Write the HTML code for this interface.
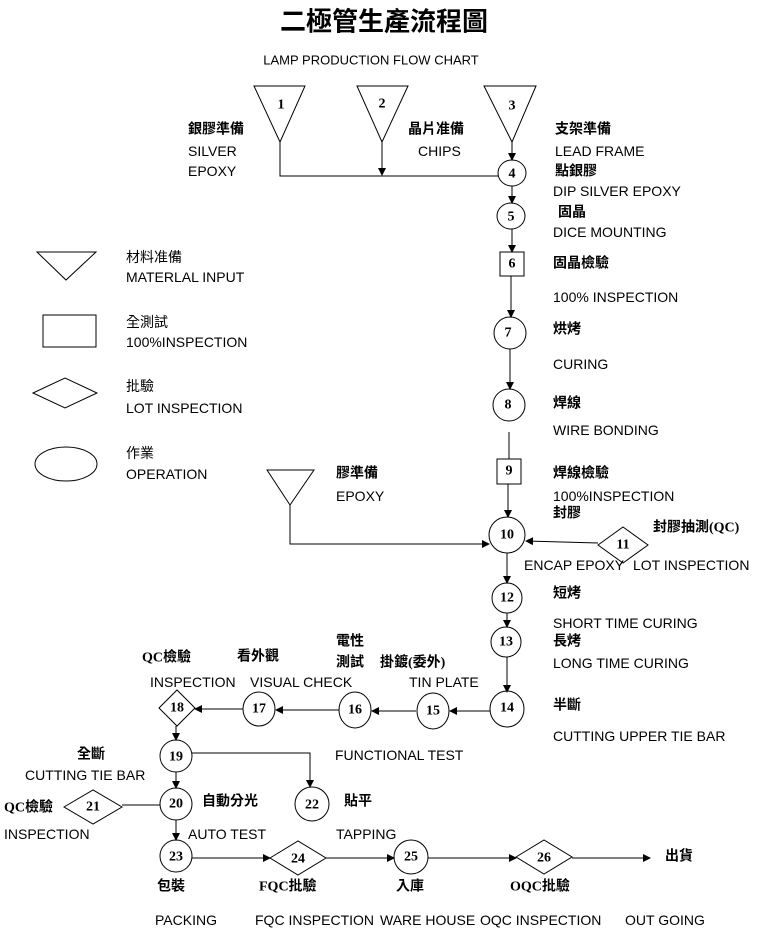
<!DOCTYPE html>
<html><head><meta charset="utf-8"><style>
html,body{margin:0;padding:0;background:#fff;}
svg{display:block}
text{font-family:"Liberation Sans","Noto Sans CJK TC",sans-serif;font-size:14px;fill:#000;dominant-baseline:central}
.b{font-weight:bold;font-family:"Liberation Serif","Noto Sans CJK TC",sans-serif}
.n{font-family:"Liberation Serif",serif;font-size:14px;font-weight:bold;text-anchor:middle}
.s{fill:none;stroke:#000;stroke-width:1}
</style></head><body>
<svg width="767" height="930" viewBox="0 0 767 930" xmlns="http://www.w3.org/2000/svg">
<defs><marker id="a" markerWidth="8" markerHeight="8" refX="7" refY="4" orient="auto" markerUnits="userSpaceOnUse"><path d="M0,0 L8,4 L0,8 z" fill="#000"/></marker></defs>
<text x="384" y="22" style="font-size:26px;text-anchor:middle" class="b">二極管生產流程圖</text>
<text x="371" y="60" style="font-size:13px;text-anchor:middle">LAMP PRODUCTION FLOW CHART</text>
<g class="s">
<polygon points="254,86 305,86 280,142"/><polygon points="357,86 408,86 382,142"/><polygon points="484,86 536,86 512,142"/>
<polyline points="280,142 280,176 498,176"/>
<line x1="382" y1="142" x2="382" y2="175" marker-end="url(#a)"/>
<line x1="512" y1="142" x2="512" y2="160" marker-end="url(#a)"/>
<ellipse cx="512" cy="173" rx="14" ry="13"/>
<line x1="512" y1="186" x2="512" y2="203" marker-end="url(#a)"/>
<ellipse cx="511" cy="216" rx="14" ry="13"/>
<line x1="512" y1="229" x2="512" y2="252" marker-end="url(#a)"/>
<rect x="500" y="252" width="24" height="24"/>
<line x1="511" y1="276" x2="511" y2="317" marker-end="url(#a)"/>
<ellipse cx="510" cy="333" rx="16" ry="16"/>
<line x1="510" y1="349" x2="510" y2="389" marker-end="url(#a)"/>
<ellipse cx="509" cy="405" rx="16" ry="16"/>
<line x1="509" y1="432" x2="509" y2="459"/>
<rect x="497" y="459" width="24" height="25"/>
<line x1="508" y1="484" x2="508" y2="517" marker-end="url(#a)"/>
<ellipse cx="507" cy="535" rx="18" ry="18"/>
<polygon points="598,545 623,527 648,545 623,563"/>
<line x1="598" y1="543" x2="526" y2="541" marker-end="url(#a)"/>
<polygon points="267,470 314,470 290,505"/>
<polyline points="290,505 290,544 489,544" marker-end="url(#a)"/>
<line x1="507" y1="553" x2="507" y2="583" marker-end="url(#a)"/>
<ellipse cx="507" cy="598" rx="15" ry="15"/>
<line x1="507" y1="613" x2="507" y2="627" marker-end="url(#a)"/>
<ellipse cx="506" cy="642" rx="15" ry="15"/>
<line x1="507" y1="657" x2="507" y2="692" marker-end="url(#a)"/>
<ellipse cx="507" cy="709" rx="17" ry="18"/>
<line x1="490" y1="711" x2="450" y2="711" marker-end="url(#a)"/>
<ellipse cx="433" cy="711" rx="16" ry="18"/>
<line x1="416" y1="711" x2="372" y2="711" marker-end="url(#a)"/>
<ellipse cx="355" cy="710" rx="16" ry="18"/>
<line x1="339" y1="710" x2="276" y2="710" marker-end="url(#a)"/>
<ellipse cx="259" cy="709" rx="16" ry="17"/>
<line x1="243" y1="709" x2="195" y2="709" marker-end="url(#a)"/>
<polygon points="159,708 177,690 195,708 177,726"/>
<line x1="176" y1="726" x2="176" y2="740" marker-end="url(#a)"/>
<ellipse cx="176" cy="756" rx="16" ry="16"/>
<polyline points="192,753 310,753 310,787" marker-end="url(#a)"/>
<line x1="176" y1="772" x2="176" y2="788" marker-end="url(#a)"/>
<ellipse cx="176" cy="804" rx="16" ry="16"/>
<ellipse cx="312" cy="804" rx="17" ry="17"/>
<polygon points="64,807 93,790 122,807 93,824"/>
<line x1="122" y1="805" x2="160" y2="805"/>
<line x1="176" y1="820" x2="176" y2="840" marker-end="url(#a)"/>
<ellipse cx="176" cy="856" rx="16" ry="16"/>
<line x1="192" y1="858" x2="270" y2="858" marker-end="url(#a)"/>
<polygon points="270,858 298,841 326,858 298,875"/>
<line x1="326" y1="858" x2="394" y2="858" marker-end="url(#a)"/>
<ellipse cx="411" cy="857" rx="17" ry="17"/>
<line x1="428" y1="858" x2="516" y2="858" marker-end="url(#a)"/>
<polygon points="516,857 544,840 572,857 544,874"/>
<line x1="572" y1="858" x2="650" y2="858" marker-end="url(#a)"/>
<polygon points="37,252 96,252 66,280"/>
<rect x="43" y="315" width="53" height="32"/>
<polygon points="33,393 65,378 97,393 65,408"/>
<ellipse cx="66" cy="464" rx="31" ry="17"/>
</g>
<g>
<text class="n" x="281" y="105">1</text><text class="n" x="382" y="104">2</text><text class="n" x="512" y="106">3</text>
<text class="n" x="512" y="174">4</text><text class="n" x="511" y="217">5</text><text class="n" x="512" y="264">6</text>
<text class="n" x="508" y="333">7</text><text class="n" x="508" y="405">8</text><text class="n" x="509" y="471">9</text>
<text class="n" x="507" y="535">10</text><text class="n" x="623" y="545">11</text><text class="n" x="507" y="598">12</text>
<text class="n" x="506" y="642">13</text><text class="n" x="507" y="708">14</text><text class="n" x="433" y="711">15</text>
<text class="n" x="355" y="710">16</text><text class="n" x="259" y="709">17</text><text class="n" x="177" y="708">18</text>
<text class="n" x="176" y="757">19</text><text class="n" x="176" y="804">20</text><text class="n" x="93" y="807">21</text>
<text class="n" x="312" y="805">22</text><text class="n" x="176" y="857">23</text><text class="n" x="298" y="859">24</text>
<text class="n" x="411" y="857">25</text><text class="n" x="544" y="858">26</text>
</g>
<text class="b" x="188" y="130">銀膠準備</text><text x="188" y="151">SILVER</text><text x="188" y="171">EPOXY</text>
<text class="b" x="408" y="130">晶片准備</text><text x="418" y="151">CHIPS</text>
<text class="b" x="555" y="130">支架準備</text><text x="555" y="151">LEAD FRAME</text>
<text class="b" x="555" y="172">點銀膠</text><text x="553" y="191">DIP SILVER EPOXY</text>
<text class="b" x="558" y="213">固晶</text><text x="553" y="232">DICE MOUNTING</text>
<text class="b" x="553" y="264">固晶檢驗</text><text x="553" y="297">100% INSPECTION</text>
<text class="b" x="553" y="330">烘烤</text><text x="553" y="364">CURING</text>
<text class="b" x="553" y="404">焊線</text><text x="553" y="430">WIRE BONDING</text>
<text class="b" x="553" y="474">焊線檢驗</text><text x="553" y="496">100%INSPECTION</text>
<text class="b" x="553" y="514">封膠</text><text class="b" x="653" y="528">封膠抽測(QC)</text>
<text x="524" y="565">ENCAP EPOXY</text><text x="633" y="565">LOT INSPECTION</text>
<text class="b" x="336" y="474">膠準備</text><text x="336" y="496">EPOXY</text>
<text class="b" x="553" y="594">短烤</text><text x="553" y="623">SHORT TIME CURING</text>
<text class="b" x="553" y="642">長烤</text><text x="553" y="663">LONG TIME CURING</text>
<text class="b" x="553" y="706">半斷</text><text x="553" y="736">CUTTING UPPER TIE BAR</text>
<text x="126" y="257">材料准備</text><text x="126" y="277">MATERLAL INPUT</text>
<text x="126" y="322">全測試</text><text x="126" y="342">100%INSPECTION</text>
<text x="126" y="386">批驗</text><text x="126" y="408">LOT INSPECTION</text>
<text x="126" y="453">作業</text><text x="126" y="474">OPERATION</text>
<text class="b" x="142" y="658">QC檢驗</text><text class="b" x="237" y="657">看外觀</text>
<text class="b" x="336" y="642">電性</text><text class="b" x="336" y="663">測試</text><text class="b" x="380" y="663">掛鍍(委外)</text>
<text x="150" y="682">INSPECTION</text><text x="250" y="682">VISUAL CHECK</text><text x="409" y="682">TIN PLATE</text>
<text x="335" y="755">FUNCTIONAL TEST</text>
<text class="b" x="77" y="755">全斷</text><text x="25" y="775">CUTTING TIE BAR</text>
<text class="b" x="202" y="802">自動分光</text><text class="b" x="344" y="802">貼平</text>
<text class="b" x="4" y="808">QC檢驗</text><text x="4" y="834">INSPECTION</text>
<text x="188" y="834">AUTO TEST</text><text x="336" y="834">TAPPING</text>
<text class="b" x="665" y="857">出貨</text>
<text class="b" x="157" y="887">包裝</text><text class="b" x="259" y="887">FQC批驗</text><text class="b" x="396" y="887">入庫</text><text class="b" x="510" y="887">OQC批驗</text>
<text x="155" y="920">PACKING</text><text x="255" y="920">FQC INSPECTION</text><text x="380" y="920">WARE HOUSE</text><text x="480" y="920">OQC INSPECTION</text><text x="625" y="920">OUT GOING</text>
</svg>
</body></html>
